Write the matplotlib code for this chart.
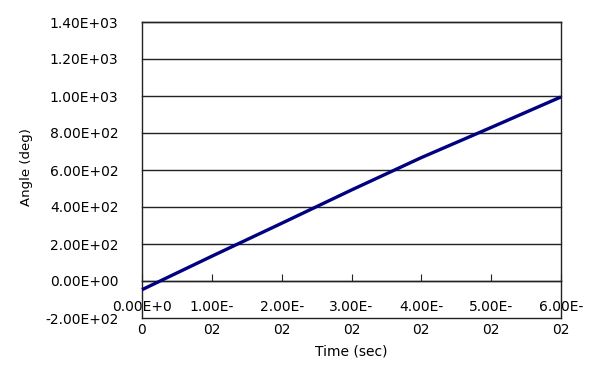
import matplotlib
matplotlib.use("Agg")
import matplotlib.pyplot as plt
from matplotlib.ticker import FixedLocator

time_sec = [0.00, 0.01, 0.02, 0.03, 0.04, 0.05, 0.06]
angle_deg = [-47, 134, 312, 492, 667, 830, 995]

x_ticks = [0.00, 0.01, 0.02, 0.03, 0.04, 0.05, 0.06]
x_tick_labels = ["0.00E+0\n0", "1.00E-\n02", "2.00E-\n02", "3.00E-\n02",
                 "4.00E-\n02", "5.00E-\n02", "6.00E-\n02"]
y_ticks = [-200, 0, 200, 400, 600, 800, 1000, 1200, 1400]
y_tick_labels = ["-2.00E+02", "0.00E+00", "2.00E+02", "4.00E+02", "6.00E+02",
                 "8.00E+02", "1.00E+03", "1.20E+03", "1.40E+03"]

plt.rcParams['font.family'] = ['DejaVu Sans']
fig = plt.figure(figsize=(6.12, 3.68), dpi=100)
ax = fig.add_axes([142/612, 1-318/368, (561-142)/612, (318-22)/368])

ax.set_xlim(0, 0.06)
ax.set_ylim(-200, 1400)

# gridlines
for yv in y_ticks:
    ax.axhline(yv, color='#222222', lw=1.0, zorder=1, clip_on=False)

ax.plot(time_sec, angle_deg, color='#000080', lw=2.4, zorder=3, clip_on=False,
        solid_capstyle='butt')

for s in ['left', 'right', 'top']:
    ax.spines[s].set_color('#222222')
    ax.spines[s].set_linewidth(1.0)
ax.spines['bottom'].set_position(('data', 0))
ax.spines['bottom'].set_color('#222222')
ax.spines['bottom'].set_linewidth(1.0)

ax.set_yticks(y_ticks)
ax.set_yticklabels(y_tick_labels, fontsize=10)
ax.tick_params(axis='y', length=0, pad=17)

ax.xaxis.set_major_locator(FixedLocator(x_ticks))
ax.set_xticklabels(x_tick_labels, fontsize=10)
for lab in ax.get_xticklabels():
    lab.set_linespacing(1.75)
ax.tick_params(axis='x', direction='in', length=5, pad=14, color='#222222')

ax.set_ylabel("Angle (deg)", fontsize=9.5)
ax.yaxis.set_label_coords(-0.26, 0.51)
ax.set_xlabel("Time (sec)", fontsize=10)
ax.xaxis.set_label_coords(0.5, -0.088)

fig.savefig("out.png", dpi=100)
